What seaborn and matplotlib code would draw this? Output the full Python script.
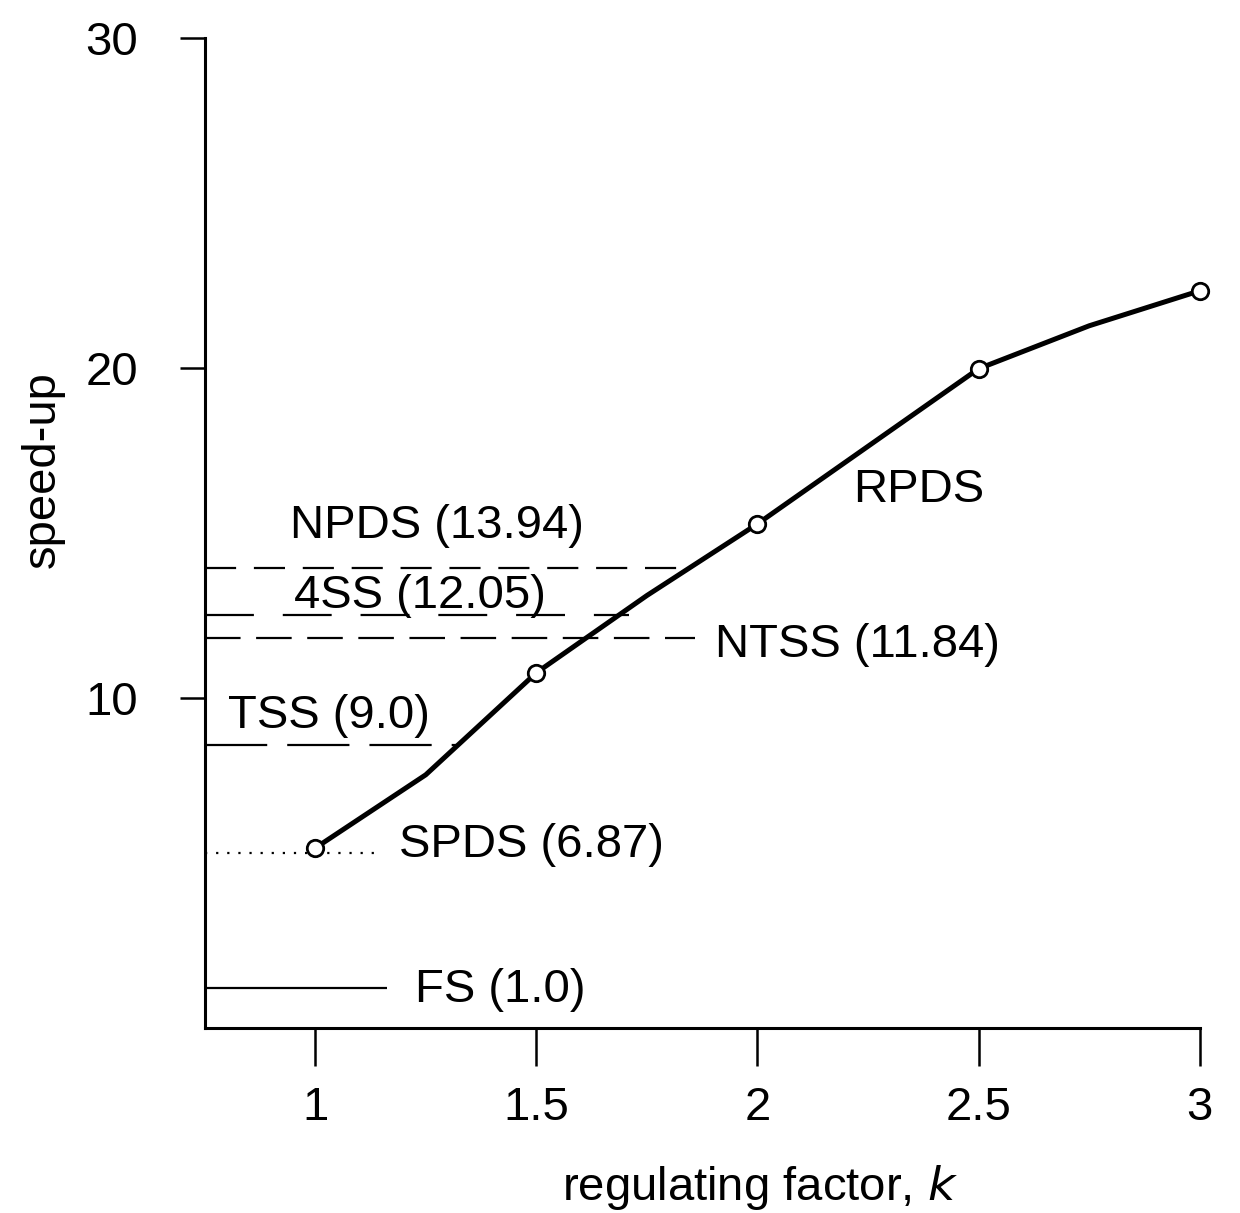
import matplotlib
matplotlib.use('Agg')
import matplotlib.pyplot as plt
import seaborn as sns
import pandas as pd

# RPDS curve
k_values = [1.0, 1.25, 1.5, 1.75, 2.0, 2.5, 2.75, 3.0]
speedup = [5.45, 7.67, 10.76, 13.1, 15.27, 19.97, 21.27, 22.33]
marker_k = [1.0, 1.5, 2.0, 2.5, 3.0]
marker_speedup = [5.45, 10.76, 15.27, 19.97, 22.33]

# reference methods: label, level drawn, end of the line on the k axis
ref_labels = ['NPDS (13.94)', '4SS (12.05)', 'NTSS (11.84)', 'TSS (9.0)', 'SPDS (6.87)', 'FS (1.0)']
ref_levels = [13.94, 12.5, 11.8, 8.58, 5.3, 1.22]
ref_ends = [1.847, 1.71, 1.859, 1.327, 1.146, 1.162]

sns.set_style('ticks')
plt.rcParams['font.family'] = ['Liberation Sans', 'DejaVu Sans']
for key in ['text.color', 'axes.labelcolor', 'xtick.color', 'ytick.color', 'axes.edgecolor']:
    plt.rcParams[key] = 'black'

fig = plt.figure(figsize=(12.4, 12.13), dpi=100)
ax = fig.add_axes([0.165, 0.1525, 0.8025, 0.8165])

curve = pd.DataFrame({'k': k_values, 'speedup': speedup})
marks = pd.DataFrame({'k': marker_k, 'speedup': marker_speedup})

# reference lines
styles = [
    dict(linestyle=(0, (14, 8)), lw=1.6),
    dict(linestyle=(0, (22, 13)), lw=1.6),
    dict(linestyle=(0, (16, 7)), lw=1.6),
    dict(linestyle=(0, (28, 9)), lw=1.6),
    dict(linestyle=(0, (1, 4)), lw=1.6),
    dict(linestyle='-', lw=1.6),
]
for lvl, end, st in zip(ref_levels, ref_ends, styles):
    ax.hlines(lvl, 0.75, end, color='black', **st)

sns.lineplot(data=curve, x='k', y='speedup', ax=ax, color='black', lw=3.6)
sns.scatterplot(data=marks, x='k', y='speedup', ax=ax, s=140, marker='o',
                facecolor='white', edgecolor='black', linewidth=2, zorder=5,
                clip_on=False)

# text labels
fs = 34
label_pos = [(1.275, 15.2, 'center'), (1.236, 13.1, 'center'), (1.904, 11.6, 'left'),
             (0.802, 9.45, 'left'), (1.19, 5.55, 'left'), (1.225, 1.15, 'left')]
for txt, (x, y, ha) in zip(ref_labels, label_pos):
    ax.text(x, y, txt, ha=ha, va='center', fontsize=fs)
ax.text(2.216, 16.3, 'RPDS', ha='left', va='center', fontsize=fs)

ax.set_xlim(0.75, 3.0)
ax.set_ylim(0, 30)
ax.set_xticks([1, 1.5, 2, 2.5, 3])
ax.set_xticklabels(['1', '1.5', '2', '2.5', '3'])
ax.set_yticks([10, 20, 30])
ax.tick_params(axis='x', length=27, width=1.8, pad=15, labelsize=fs)
ax.tick_params(axis='y', length=18, width=1.8, pad=30, labelsize=fs)

sns.despine(ax=ax)
for sp in ['left', 'bottom']:
    ax.spines[sp].set_linewidth(2.2)

ax.set_xlabel('regulating factor, $\\it{k}$', fontsize=fs)
ax.set_ylabel('speed-up', fontsize=fs)
ax.xaxis.set_label_coords(0.558, -0.136)
ax.yaxis.set_label_coords(-0.141, 0.564)

fig.savefig('out.png', dpi=100)
